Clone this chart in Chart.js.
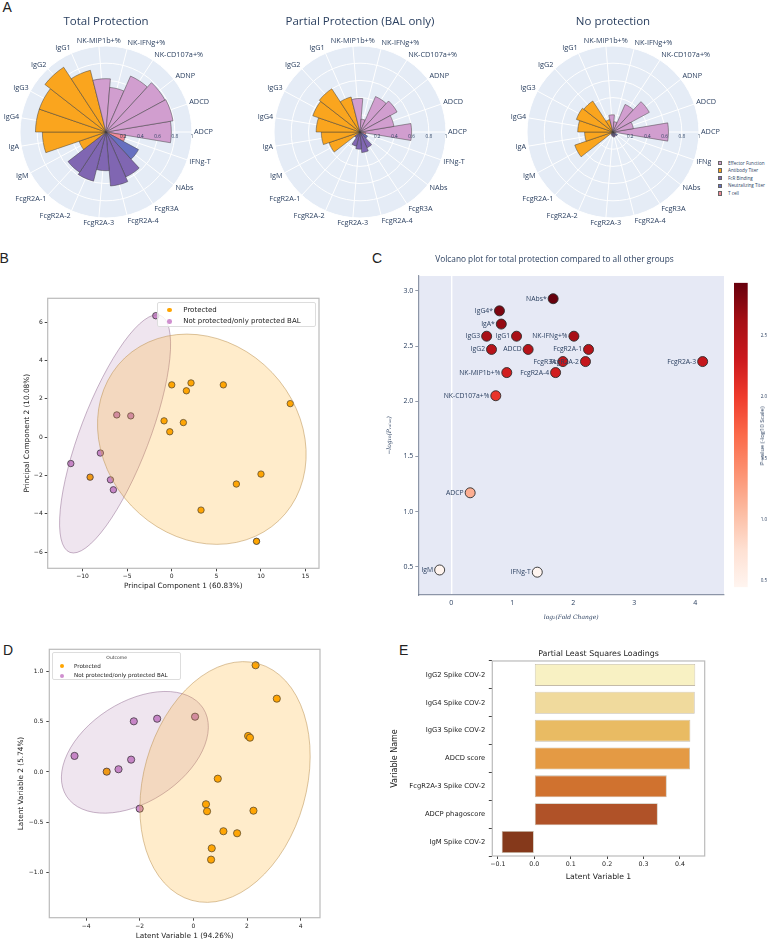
<!DOCTYPE html>
<html>
<head>
<meta charset="utf-8">
<script src="https://cdn.jsdelivr.net/npm/chart.js@4.4.1/dist/chart.umd.min.js"></script>
<style>
  html, body { margin: 0; padding: 0; background: #fff; }
  #page { position: relative; width: 774px; height: 940px; overflow: hidden; }
  canvas { position: absolute; }
  .letter { position: absolute; font-family: 'Liberation Sans', sans-serif; font-size: 14px; line-height: 14px; color: #222; }
  .box { position: absolute; box-sizing: border-box; }
  .item { position: absolute; white-space: nowrap; }
</style>
</head>
<body>
<div id="page">
  <div class="letter" style="left:2.5px;top:-0.2px">A</div>
  <div class="letter" style="left:-0.5px;top:251.4px">B</div>
  <div class="letter" style="left:372px;top:251.4px">C</div>
  <div class="letter" style="left:3px;top:643.1px">D</div>
  <div class="letter" style="left:399px;top:643.1px">E</div>

  <canvas id="polarTotal" width="213" height="235" style="left:0px;top:0px"></canvas>
  <canvas id="polarPartial" width="220" height="235" style="left:250px;top:0px"></canvas>
  <canvas id="polarNone" width="220" height="235" style="left:503px;top:0px"></canvas>
  <div class="box" id="polarLegend" style="left:710.5px;top:157px;width:63.5px;height:42px;background:#fff"></div>

  <canvas id="pca" width="330" height="305" style="left:0px;top:290px"></canvas>
  <div class="box" id="pcaLegend" style="left:157.3px;top:301.7px;width:158.7px;height:25.6px;background:rgba(255,255,255,0.8);border:0.8px solid #ddd;border-radius:2px"></div>

  <canvas id="volcano" width="389" height="385" style="left:385px;top:245px"></canvas>
  <canvas id="colorbar" width="44" height="320" style="left:730px;top:275px"></canvas>
  <div class="item" id="cbTitle" style="left:762px;top:436px;transform:translate(-50%,-50%) rotate(-90deg);font-family:'Open Sans';font-size:6px;color:#2a3f5f">P-value (-log10 Scale)</div>

  <canvas id="plsScores" width="330" height="300" style="left:0px;top:640px"></canvas>
  <div class="box" id="plsLegend" style="left:52.3px;top:652.3px;width:128.7px;height:27.7px;background:rgba(255,255,255,0.8);border:0.8px solid #ddd;border-radius:2px"></div>

  <canvas id="loadings" width="384" height="260" style="left:390px;top:640px"></canvas>
</div>
<script>
// ---- A: polar bar charts (clockwise from ADCP at 3 o'clock) ----
const polarLabels = ['ADCP', 'IFNg-T', 'NAbs', 'FcgR3A', 'FcgR2A-4', 'FcgR2A-3', 'FcgR2A-2', 'FcgR2A-1',
  'IgM', 'IgA', 'IgG4', 'IgG3', 'IgG2', 'IgG1', 'NK-MIP1b+%', 'NK-IFNg+%', 'NK-CD107a+%', 'ADNP', 'ADCD'];
const polarGroups = ['Effector Function', 'T cell', 'Neutralizing Titer', 'FcR Binding', 'FcR Binding', 'FcR Binding',
  'FcR Binding', 'FcR Binding', 'Antibody Titer', 'Antibody Titer', 'Antibody Titer', 'Antibody Titer', 'Antibody Titer',
  'Antibody Titer', 'Effector Function', 'Effector Function', 'Effector Function', 'Effector Function', 'Effector Function'];
const totalProtection   = [0.76, 0.23, 0.43, 0.57, 0.63, 0.45, 0.59, 0.56, 0.33, 0.74, 0.82, 0.82, 0.90, 0.74, 0.62, 0.52, 0.71, 0.78, 0.79];
const partialProtection = [0.60, 0.07, 0.10, 0.20, 0.24, 0.20, 0.17, 0.08, 0.38, 0.45, 0.51, 0.58, 0.60, 0.42, 0.39, 0.15, 0.45, 0.49, 0.40];
const noProtection      = [0.645, 0.03, 0.06, 0.05, 0.06, 0.05, 0.04, 0.03, 0.47, 0.33, 0.41, 0.45, 0.43, 0.15, 0.20, 0.12, 0.35, 0.48, 0.24];
const groupNames = ['Effector Function', 'Antibody Titer', 'FcR Binding', 'Neutralizing Titer', 'T cell'];

// ---- B: PCA scores ----
const pcaProtectedX = [-9.15, 0.0, 2.16, 1.64, 5.78, 13.28, -0.86, 1.3, -0.22, 10.0, 7.24, 3.28, 9.5];
const pcaProtectedY = [-2.09, 2.73, 2.83, 2.42, 2.73, 1.75, 0.85, 0.76, 0.28, -1.93, -2.45, -3.81, -5.44];
const pcaOtherX = [-1.79, -6.16, -4.59, -8.0, -11.31, -6.87, -6.54];
const pcaOtherY = [6.34, 1.16, 1.11, -0.83, -1.38, -2.23, -2.75];
// confidence ellipses: centre and two conjugate semi-axes, in data units
const pcaEllipseProtected = { center: [3.37, -0.11], axisA: [-1.68, 5.49], axisB: [11.57, 0] };
const pcaEllipseOther = { center: [-6.35, 0.17], axisA: [4.67, 6.22], axisB: [4.11, 0] };

// ---- C: volcano ----
const volcanoLabels = ['NAbs*', 'IgG4*', 'IgA*', 'IgG3', 'IgG1', 'NK-IFNg+%', 'IgG2', 'ADCD', 'FcgR2A-1', 'FcgR3A',
  'FcgR2A-2', 'FcgR2A-3', 'NK-MIP1b+%', 'FcgR2A-4', 'NK-CD107a+%', 'ADCP', 'IgM', 'IFNg-T'];
const log2FC = [1.67, 0.79, 0.82, 0.58, 1.07, 2.01, 0.66, 1.26, 2.25, 1.83, 2.20, 4.12, 0.91, 1.71, 0.73, 0.31, -0.19, 1.41];
const negLog10P = [2.93, 2.82, 2.70, 2.59, 2.59, 2.59, 2.47, 2.47, 2.47, 2.36, 2.36, 2.36, 2.26, 2.26, 2.05, 1.17, 0.47, 0.45];
const colorbarTicks = [0.5, 1, 1.5, 2, 2.5];

// ---- D: PLS-DA scores ----
const plsProtectedX = [2.32, 3.11, 2.04, 2.11, 0.91, 0.47, 0.51, 2.24, 1.12, 1.63, 0.685, 0.66, -3.23];
const plsProtectedY = [1.064, 0.731, 0.359, 0.342, -0.067, -0.322, -0.392, -0.386, -0.591, -0.611, -0.761, -0.874, 0.003];
const plsOtherX = [-4.43, -2.79, -2.32, -2.22, -1.35, 0.063, -2.0];
const plsOtherY = [0.16, 0.027, 0.123, 0.505, 0.531, 0.551, -0.366];
const plsEllipseProtected = { center: [1.18, -0.10], axisA: [1.241, 1.18], axisB: [2.921, -0.219] };
const plsEllipseOther = { center: [-2.18, 0.196], axisA: [2.545, 0.439], axisB: [1.013, -0.419] };

// ---- E: PLS loadings ----
const plsVarNames = ['IgG2 Spike COV-2', 'IgG4 Spike COV-2', 'IgG3 Spike COV-2', 'ADCD score',
  'FcgR2A-3 Spike COV-2', 'ADCP phagoscore', 'IgM Spike COV-2'];
const plsLoadings = [0.442, 0.4406, 0.4286, 0.4277, 0.3637, 0.339, -0.0896];

// styles
const groupColors = {
  'Effector Function': '#D19ECF', 'Antibody Titer': '#FAA51E', 'FcR Binding': '#8066B2',
  'Neutralizing Titer': '#6670C0', 'T cell': '#F08A98'
};
const loadingColors = ['#F8F1C3', '#F0DA9D', '#E9BB63', '#E49A44', '#D0722F', '#B05228', '#85391B'];
const orange = '#FFA500', purple = '#CF8FCF';
const plotlyText = '#2a3f5f';
const reds = [[255,245,240],[254,224,210],[252,187,161],[252,146,114],[251,106,74],[239,59,44],[203,24,29],[165,15,21],[103,0,13]];

function redsColor(t) {
  t = Math.max(0, Math.min(1, t));
  const p = t * 8, i = Math.min(7, Math.floor(p)), f = p - i;
  const c = reds[i].map((v, k) => Math.round(v + (reds[i + 1][k] - v) * f));
  return 'rgb(' + c.join(',') + ')';
}
const minus = v => (v < 0 ? '\u2212' : '') + Math.abs(v);
const minus1 = v => (v < 0 ? '\u2212' : '') + Math.abs(v).toFixed(1);

// ---------- plugins ----------
const polarSpokes = {
  id: 'polarSpokes',
  beforeDatasetsDraw(chart) {
    const s = chart.scales.r, ctx = chart.ctx, n = chart.data.labels.length;
    ctx.save();
    ctx.strokeStyle = '#fff';
    ctx.lineWidth = 1;
    for (let i = 0; i < n; i++) {
      const p = s.getPointPosition(i, s.drawingArea, Math.PI / n);
      ctx.beginPath();
      ctx.moveTo(s.xCenter, s.yCenter);
      ctx.lineTo(p.x, p.y);
      ctx.stroke();
    }
    ctx.restore();
  }
};
const polarTickText = {
  id: 'polarTickText',
  afterDatasetsDraw(chart) {
    const s = chart.scales.r, ctx = chart.ctx;
    ctx.save();
    ctx.font = '4.6px "Open Sans"';
    ctx.fillStyle = plotlyText;
    ctx.textAlign = 'center';
    ctx.textBaseline = 'middle';
    s.ticks.filter(t => t.value > 0).forEach(t => {
      const d = s.getDistanceFromCenterForValue(t.value);
      ctx.fillText(String(+t.value.toFixed(1)), s.xCenter + d, s.yCenter + 5);
    });
    ctx.restore();
  }
};
// category names round the disc, anchored like plotly's angular axis
const polarLabelText = {
  id: 'polarLabelText',
  afterDraw(chart) {
    const s = chart.scales.r, ctx = chart.ctx, labels = chart.data.labels, n = labels.length;
    ctx.save();
    ctx.font = '7.3px "Open Sans"';
    ctx.fillStyle = plotlyText;
    ctx.textBaseline = 'middle';
    labels.forEach((lab, i) => {
      const p = s.getPointPosition(i, s.drawingArea + 2, Math.PI / n);
      const dx = p.x - s.xCenter, dy = p.y - s.yCenter, d = Math.hypot(dx, dy);
      const cs = dx / d, sn = -dy / d;
      ctx.textAlign = cs > 0.1 ? 'left' : cs < -0.1 ? 'right' : 'center';
      ctx.fillText(lab, p.x, p.y - sn * 3.6);
    });
    ctx.restore();
  }
};
const framePlugin = {
  id: 'frame',
  afterDraw(chart, args, o) {
    const { ctx, chartArea: c } = chart;
    ctx.save();
    ctx.strokeStyle = o.color;
    ctx.lineWidth = o.width;
    ctx.strokeRect(c.left, c.top, c.right - c.left, c.bottom - c.top);
    ctx.restore();
  }
};
const ellipsePlugin = {
  id: 'ellipses',
  afterDatasetsDraw(chart, args, o) {
    const { ctx, chartArea: c, scales: { x, y } } = chart;
    const sx = x.getPixelForValue(1) - x.getPixelForValue(0);
    const sy = y.getPixelForValue(1) - y.getPixelForValue(0);
    ctx.save();
    ctx.beginPath();
    ctx.rect(c.left, c.top, c.right - c.left, c.bottom - c.top);
    ctx.clip();
    o.items.forEach(e => {
      ctx.save();
      ctx.transform(e.axisA[0] * sx, e.axisA[1] * sy, e.axisB[0] * sx, e.axisB[1] * sy,
        x.getPixelForValue(e.center[0]), y.getPixelForValue(e.center[1]));
      ctx.beginPath();
      ctx.arc(0, 0, 1, 0, Math.PI * 2);
      ctx.restore();
      ctx.fillStyle = e.fill;
      ctx.fill();
      ctx.strokeStyle = e.stroke;
      ctx.lineWidth = 0.8;
      ctx.stroke();
    });
    ctx.restore();
  }
};
const areaBg = {
  id: 'areaBg',
  beforeDraw(chart, args, o) {
    const { ctx, chartArea: c } = chart;
    ctx.save();
    ctx.fillStyle = o.color;
    ctx.fillRect(c.left, c.top, c.right - c.left, c.bottom - c.top);
    ctx.restore();
  }
};
const pointText = {
  id: 'pointText',
  afterDatasetsDraw(chart, args, o) {
    const ctx = chart.ctx;
    ctx.save();
    ctx.font = o.font;
    ctx.fillStyle = o.color;
    ctx.textAlign = 'right';
    ctx.textBaseline = 'middle';
    chart.getDatasetMeta(0).data.forEach((pt, i) => ctx.fillText(o.labels[i], pt.x - o.offset, pt.y));
    ctx.restore();
  }
};

const base = { responsive: false, animation: false, events: [] };

// ---------- A ----------
function polarChart(id, title, values, pad) {
  return new Chart(document.getElementById(id), {
    type: 'polarArea',
    data: {
      labels: polarLabels,
      datasets: [{
        data: values,
        backgroundColor: polarGroups.map(g => groupColors[g]),
        borderColor: 'rgba(60,60,60,0.8)',
        borderWidth: 0.6
      }]
    },
    options: {
      ...base,
      layout: { padding: pad },
      plugins: {
        legend: { display: false },
        tooltip: { enabled: false },
        title: {
          display: true, text: title, color: plotlyText,
          font: { family: 'Open Sans', size: 11.5, weight: 'normal' },
          padding: { top: 14.8, bottom: 17.4 }
        }
      },
      scales: {
        r: {
          min: 0, max: 1,
          startAngle: 90 - 180 / polarLabels.length,
          backgroundColor: '#E5ECF6',
          ticks: { display: false, stepSize: 0.2 },
          grid: { color: '#fff', lineWidth: 1, circular: true },
          angleLines: { display: false },
          pointLabels: { display: false }
        }
      }
    },
    plugins: [polarSpokes, polarTickText, polarLabelText]
  });
}
polarChart('polarTotal', 'Total Protection', totalProtection, { left: 20, right: 21, top: 0, bottom: 17 });
polarChart('polarPartial', 'Partial Protection (BAL only)', partialProtection, { left: 24, right: 24, top: 0, bottom: 17 });
polarChart('polarNone', 'No protection', noProtection, { left: 24, right: 24, top: 0, bottom: 17 });

(function () {
  const box = document.getElementById('polarLegend');
  groupNames.forEach((g, i) => {
    const y = 6 + i * 7.6;
    box.insertAdjacentHTML('beforeend',
      `<div class="item" style="left:7.5px;top:${y - 2.3}px;width:4.3px;height:4.6px;background:${groupColors[g]};border:0.4px solid #666;box-sizing:border-box"></div>` +
      `<div class="item" style="left:17.5px;top:${y - 3.5}px;font:4.6px/7px 'Open Sans';color:${plotlyText}">${g}</div>`);
  });
})();

// ---------- B ----------
function scoreScales(xr, yr, xt, yt, fmt, geo) {
  const tickFont = { family: 'DejaVu Sans', size: 6 };
  const titleFont = { family: 'DejaVu Sans', size: 7.3 };
  return {
    x: {
      type: 'linear', min: xr[0], max: xr[1],
      ticks: { stepSize: xt, includeBounds: false, color: '#222', font: tickFont, padding: 2, maxRotation: 0, callback: fmt.x },
      grid: { drawOnChartArea: false, tickLength: 3, color: '#444' },
      border: { display: false },
      title: { display: true, text: geo.xTitle, color: '#222', font: titleFont, padding: { top: 0, bottom: geo.xPadBottom } },
      afterFit: s => { s.height = geo.xHeight; }
    },
    y: {
      type: 'linear', min: yr[0], max: yr[1],
      ticks: { stepSize: yt, includeBounds: false, color: '#222', font: tickFont, padding: geo.yTickPad, callback: fmt.y },
      grid: { drawOnChartArea: false, tickLength: 3, color: '#444' },
      border: { display: false },
      title: { display: true, text: geo.yTitle, color: '#222', font: titleFont, padding: { top: geo.yTitlePad, bottom: 0 } },
      afterFit: s => { s.width = geo.yWidth; }
    }
  };
}
function pts(xs, ys) { return xs.map((x, i) => ({ x, y: ys[i] })); }

new Chart(document.getElementById('pca'), {
  type: 'scatter',
  data: {
    datasets: [
      { label: 'Protected', data: pts(pcaProtectedX, pcaProtectedY), pointBackgroundColor: orange, pointBorderColor: '#333', pointBorderWidth: 0.8, pointRadius: 3.2 },
      { label: 'Not protected/only protected BAL', data: pts(pcaOtherX, pcaOtherY), pointBackgroundColor: purple, pointBorderColor: '#333', pointBorderWidth: 0.8, pointRadius: 3.2 }
    ]
  },
  options: {
    ...base,
    layout: { padding: { top: 8.3, right: 11, left: 0, bottom: 0 } },
    plugins: {
      legend: { display: false }, tooltip: { enabled: false },
      frame: { color: '#bbb', width: 1.2 },
      ellipses: { items: [
        { ...pcaEllipseOther, fill: 'rgba(150,80,150,0.15)', stroke: 'rgba(140,100,140,0.6)' },
        { ...pcaEllipseProtected, fill: 'rgba(255,170,20,0.22)', stroke: 'rgba(190,150,90,0.7)' }
      ] }
    },
    scales: scoreScales([-13.9, 16.5], [-6.85, 7.25], 5, 2, { x: minus, y: minus },
      { xTitle: 'Principal Component 1 (60.83%)', yTitle: 'Principal Component 2 (10.08%)',
        xHeight: 26.7, yWidth: 47.7, xPadBottom: 4.5, yTitlePad: 22.5, yTickPad: 2 })
  },
  plugins: [ellipsePlugin, framePlugin]
});

function scatterLegend(id, opts) {
  const box = document.getElementById(id);
  let html = '';
  if (opts.title) html += `<div class="item" style="left:0;width:100%;text-align:center;top:${opts.titleY}px;font:${opts.titleSize}px/1 'DejaVu Sans';color:#333">${opts.title}</div>`;
  opts.items.forEach((it, i) => {
    const y = opts.firstY + i * opts.gap;
    html += `<div class="item" style="left:${opts.dotX - opts.dotR}px;top:${y - opts.dotR}px;width:${2 * opts.dotR}px;height:${2 * opts.dotR}px;border-radius:50%;background:${it.color}"></div>`;
    html += `<div class="item" style="left:${opts.textX}px;top:${y - opts.size * 0.6}px;font:${opts.size}px/${opts.size * 1.2}px 'DejaVu Sans';color:#222">${it.label}</div>`;
  });
  box.innerHTML = html;
}
scatterLegend('pcaLegend', { items: [{ label: 'Protected', color: orange }, { label: 'Not protected/only protected BAL', color: purple }],
  firstY: 7.3, gap: 11.7, dotX: 11, dotR: 2.3, textX: 25, size: 7 });

// ---------- C ----------
const cMin = Math.min(...negLog10P), cMax = Math.max(...negLog10P);
new Chart(document.getElementById('volcano'), {
  type: 'scatter',
  data: {
    datasets: [{
      data: pts(log2FC, negLog10P),
      pointBackgroundColor: negLog10P.map(v => redsColor((v - cMin) / (cMax - cMin))),
      pointBorderColor: 'rgba(45,45,45,0.9)', pointBorderWidth: 1, pointRadius: 5
    }]
  },
  options: {
    ...base,
    layout: { padding: { top: 0, right: 50, left: 0, bottom: 0 } },
    plugins: {
      legend: { display: false }, tooltip: { enabled: false },
      title: { display: true, text: 'Volcano plot for total protection compared to all other groups', color: plotlyText,
        font: { family: 'Open Sans', size: 8.3, weight: 'normal' }, padding: { top: 10, bottom: 11.04 } },
      areaBg: { color: '#E6E9F5' },
      pointText: { labels: volcanoLabels, font: '6.8px "Open Sans"', color: plotlyText, offset: 6.5 }
    },
    scales: {
      x: {
        type: 'linear', min: -0.54, max: 4.47,
        ticks: { stepSize: 1, includeBounds: false, color: plotlyText, font: { family: 'Open Sans', size: 7 }, padding: 4, maxRotation: 0 },
        grid: { drawTicks: false, color: c => (c.tick && c.tick.value === 0 ? '#fff' : 'rgba(0,0,0,0)'), lineWidth: 1.4 },
        border: { display: true, color: 'rgba(110,120,140,0.75)', width: 1.2 },
        title: { display: true, text: 'log\u2082(Fold Change)', color: plotlyText,
          font: { family: 'DejaVu Serif', size: 6, style: 'italic' }, padding: { top: 0, bottom: 9.1 } },
        afterFit: s => { s.height = 35; }
      },
      y: {
        type: 'linear', min: 0.243, max: 3.136,
        ticks: { stepSize: 0.5, includeBounds: false, color: plotlyText, font: { family: 'Open Sans', size: 7 }, padding: 2 },
        grid: { drawOnChartArea: false, tickLength: 3, color: 'rgba(110,120,140,0.75)' },
        border: { display: true, color: 'rgba(110,120,140,0.75)', width: 1.2 },
        title: { display: true, text: '\u2212log\u2081\u2080(P\u1d65\u2090\u2097\u1d64\u2091)', color: plotlyText,
          font: { family: 'DejaVu Serif', size: 6, style: 'italic' }, padding: { top: 0.7, bottom: 0 } },
        afterFit: s => { s.width = 33.3; }
      }
    }
  },
  plugins: [areaBg, pointText]
});

new Chart(document.getElementById('colorbar'), {
  type: 'bar',
  data: {
    labels: [''],
    datasets: [{
      data: [[cMin, cMax]],
      backgroundColor: c => {
        const area = c.chart.chartArea;
        if (!area) return 'rgb(' + reds[4].join(',') + ')';
        const g = c.chart.ctx.createLinearGradient(0, area.bottom, 0, area.top);
        reds.forEach((col, i) => g.addColorStop(i / (reds.length - 1), 'rgb(' + col.join(',') + ')'));
        return g;
      },
      borderWidth: 0, barPercentage: 1, categoryPercentage: 1
    }]
  },
  options: {
    ...base,
    layout: { padding: { left: 4, top: 5, bottom: 5, right: 0 } },
    plugins: { legend: { display: false }, tooltip: { enabled: false } },
    scales: {
      x: { display: false },
      y: {
        position: 'right', min: cMin, max: cMax,
        ticks: { color: plotlyText, font: { family: 'Open Sans', size: 4.6 }, padding: 5 },
        grid: { display: false }, border: { display: false },
        afterBuildTicks: s => { s.ticks = colorbarTicks.map(v => ({ value: v })); },
        afterFit: s => { s.width = 26.3; }
      }
    }
  }
});

// ---------- D ----------
new Chart(document.getElementById('plsScores'), {
  type: 'scatter',
  data: {
    datasets: [
      { label: 'Protected', data: pts(plsProtectedX, plsProtectedY), pointBackgroundColor: orange, pointBorderColor: '#333', pointBorderWidth: 0.8, pointRadius: 3.6 },
      { label: 'Not protected/only protected BAL', data: pts(plsOtherX, plsOtherY), pointBackgroundColor: purple, pointBorderColor: '#333', pointBorderWidth: 0.8, pointRadius: 3.6 }
    ]
  },
  options: {
    ...base,
    layout: { padding: { top: 9.3, right: 10, left: 0, bottom: 0 } },
    plugins: {
      legend: { display: false }, tooltip: { enabled: false },
      frame: { color: '#bbb', width: 1.2 },
      ellipses: { items: [
        { ...plsEllipseOther, fill: 'rgba(150,80,150,0.15)', stroke: 'rgba(140,100,140,0.6)' },
        { ...plsEllipseProtected, fill: 'rgba(255,170,20,0.22)', stroke: 'rgba(190,150,90,0.7)' }
      ] }
    },
    scales: scoreScales([-5.37, 4.72], [-1.453, 1.223], 2, 0.5, { x: minus, y: minus1 },
      { xTitle: 'Latent Variable 1 (94.26%)', yTitle: 'Latent Variable 2 (5.74%)',
        xHeight: 22.3, yWidth: 49.3, xPadBottom: 0, yTitlePad: 17.2, yTickPad: 3 })
  },
  plugins: [ellipsePlugin, framePlugin]
});
scatterLegend('plsLegend', { title: 'Outcome', titleY: 2.5, titleSize: 4.5,
  items: [{ label: 'Protected', color: orange }, { label: 'Not protected/only protected BAL', color: purple }],
  firstY: 13, gap: 9.4, dotX: 9, dotR: 2, textX: 20.7, size: 5.6 });

// ---------- E ----------
new Chart(document.getElementById('loadings'), {
  type: 'bar',
  data: {
    labels: plsVarNames,
    datasets: [{
      data: plsLoadings, backgroundColor: loadingColors,
      borderColor: 'rgba(190,180,160,0.9)', borderWidth: 0.8, borderSkipped: false,
      barPercentage: 0.79, categoryPercentage: 1
    }]
  },
  options: {
    ...base,
    indexAxis: 'y',
    layout: { padding: { top: 0, right: 69.3, left: 0, bottom: 0 } },
    plugins: {
      legend: { display: false }, tooltip: { enabled: false },
      title: { display: true, text: 'Partial Least Squares Loadings', fullSize: false, color: '#222',
        font: { family: 'DejaVu Sans', size: 7.9, weight: 'normal' }, padding: { top: 9.5, bottom: 2 } },
      frame: { color: '#bbb', width: 1.2 }
    },
    scales: {
      x: {
        type: 'linear', min: -0.1154, max: 0.468,
        ticks: { stepSize: 0.1, includeBounds: false, color: '#222', font: { family: 'DejaVu Sans', size: 6.3 }, padding: 2, callback: minus1 },
        grid: { drawOnChartArea: false, tickLength: 3, color: '#444' },
        border: { display: false },
        title: { display: true, text: 'Latent Variable 1', color: '#222', font: { family: 'DejaVu Sans', size: 7.7 }, padding: { top: 0, bottom: 18.8 } },
        afterFit: s => { s.height = 44; }
      },
      y: {
        ticks: { color: '#222', font: { family: 'DejaVu Sans', size: 6.8 }, padding: 3.5 },
        grid: { drawOnChartArea: false, tickLength: 3.5, color: '#444' },
        border: { display: false },
        title: { display: true, text: 'Variable Name', color: '#222', font: { family: 'DejaVu Sans', size: 8 }, padding: { top: 0.5, bottom: 0 } },
        afterFit: s => { s.width = 102.3; }
      }
    }
  },
  plugins: [framePlugin]
});
</script>
</body>
</html>
